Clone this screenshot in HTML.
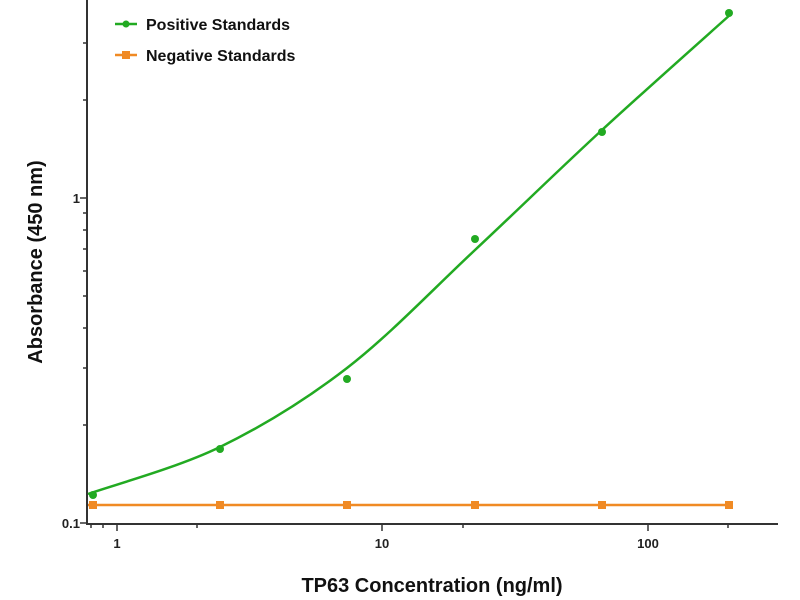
<!DOCTYPE html>
<html><head><meta charset="utf-8"><style>
body{margin:0;background:#fff;}
svg{display:block;font-family:"Liberation Sans",Arial,sans-serif;font-weight:bold;}
</style></head><body>
<svg width="800" height="600" viewBox="0 0 800 600">
<g stroke="#333" stroke-width="2" fill="none">
<line x1="87" y1="0" x2="87" y2="524"/>
<line x1="86" y1="524" x2="778" y2="524"/>
</g>
<g stroke="#333" stroke-width="1.5">
<line x1="80" y1="198" x2="87" y2="198"/>
<line x1="80" y1="523" x2="87" y2="523"/>
<line x1="83" y1="100" x2="87" y2="100"/>
<line x1="83" y1="43" x2="87" y2="43"/>
<line x1="83" y1="425" x2="87" y2="425"/>
<line x1="83" y1="368" x2="87" y2="368"/>
<line x1="83" y1="328" x2="87" y2="328"/>
<line x1="83" y1="296" x2="87" y2="296"/>
<line x1="83" y1="271" x2="87" y2="271"/>
<line x1="83" y1="249" x2="87" y2="249"/>
<line x1="83" y1="230" x2="87" y2="230"/>
<line x1="83" y1="213" x2="87" y2="213"/>
<line x1="117" y1="524" x2="117" y2="531"/>
<line x1="382" y1="524" x2="382" y2="531"/>
<line x1="648" y1="524" x2="648" y2="531"/>
<line x1="103" y1="524" x2="103" y2="528"/>
<line x1="91" y1="524" x2="91" y2="528"/>
<line x1="197" y1="524" x2="197" y2="528"/>
<line x1="463" y1="524" x2="463" y2="528"/>
<line x1="728" y1="524" x2="728" y2="528"/>
</g>
<g font-size="13" fill="#222">
<text x="80" y="203" text-anchor="end">1</text>
<text x="80" y="528" text-anchor="end">0.1</text>
<text x="117" y="548" text-anchor="middle">1</text>
<text x="382" y="548" text-anchor="middle">10</text>
<text x="648" y="548" text-anchor="middle">100</text>
</g>
<text x="432" y="592" font-size="20" text-anchor="middle" fill="#111">TP63 Concentration (ng/ml)</text>
<text transform="translate(42,262) rotate(-90)" font-size="20" text-anchor="middle" fill="#111">Absorbance (450 nm)</text>
<line x1="88" y1="505" x2="731" y2="505" stroke="#f08a24" stroke-width="2.5"/>
<g fill="#f08a24">
<rect x="89" y="501" width="8" height="8"/><rect x="216" y="501" width="8" height="8"/><rect x="343" y="501" width="8" height="8"/><rect x="471" y="501" width="8" height="8"/><rect x="598" y="501" width="8" height="8"/><rect x="725" y="501" width="8" height="8"/>
</g>
<path d="M88,494 C110,486 177,468 220,447 C263,426 304.5,400.8 347,368 C389.5,335.2 432.5,289.7 475,250 C517.5,210.3 559.3,169.3 602,130 C644.7,90.7 709.5,33.3 731,14" stroke="#22aa22" stroke-width="2.5" fill="none"/>
<g fill="#22aa22">
<circle cx="93" cy="495" r="4"/><circle cx="220" cy="449" r="4"/><circle cx="347" cy="379" r="4"/><circle cx="475" cy="239" r="4"/><circle cx="602" cy="132" r="4"/><circle cx="729" cy="13" r="4"/>
</g>
<line x1="115" y1="24" x2="137" y2="24" stroke="#22aa22" stroke-width="2.5"/><circle cx="126" cy="24" r="3.5" fill="#22aa22"/>
<line x1="115" y1="55" x2="137" y2="55" stroke="#f08a24" stroke-width="2.5"/><rect x="122" y="51" width="8" height="8" fill="#f08a24"/>
<text x="146" y="30" font-size="16" fill="#111">Positive Standards</text>
<text x="146" y="61" font-size="16" fill="#111">Negative Standards</text>
</svg>
</body></html>
